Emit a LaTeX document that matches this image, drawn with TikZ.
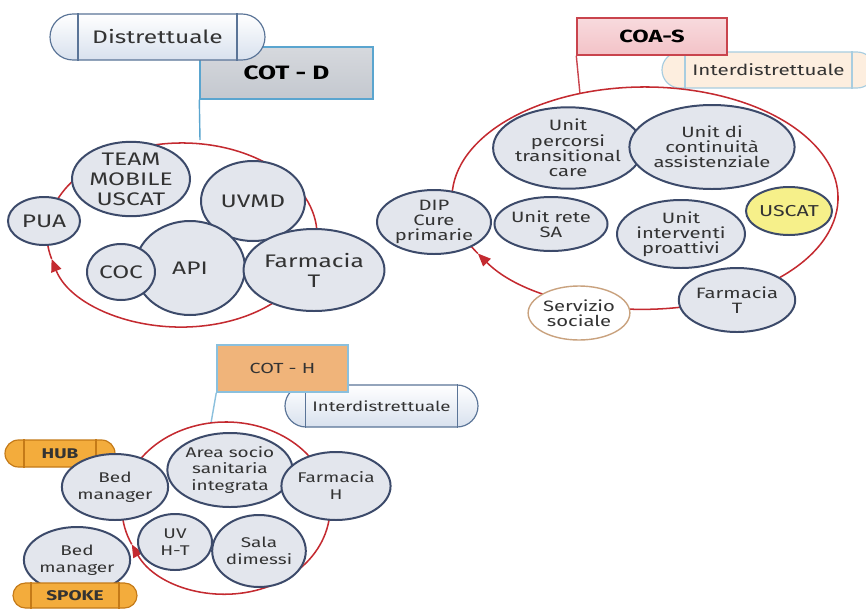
\documentclass[tikz,border=0pt]{standalone}
\usepackage{fontspec}
\setmainfont{Fira Sans}[FakeStretch=1.35]
\usetikzlibrary{shapes.geometric,shapes.misc,arrows.meta}

\definecolor{bubFill}{HTML}{E3E6ED}
\definecolor{bubLine}{HTML}{3C4A6A}
\definecolor{ringRed}{HTML}{C42A30}
\definecolor{txtGray}{HTML}{333333}
\definecolor{cotBlue}{HTML}{5AA5CF}
\definecolor{cotGray}{HTML}{C4C8CF}
\definecolor{pillLine}{HTML}{5A7497}
\definecolor{pillBlue}{HTML}{D8E1EE}
\definecolor{coaRed}{HTML}{C9444D}
\definecolor{coaPink}{HTML}{F3C2C7}
\definecolor{peach}{HTML}{FDEEDF}
\definecolor{peachLine}{HTML}{A8CDE0}
\definecolor{cohOrange}{HTML}{F0B47A}
\definecolor{hubOrange}{HTML}{F3AC3C}
\definecolor{hubLine}{HTML}{C47A18}
\definecolor{uscatYellow}{HTML}{F6F08A}
\definecolor{socialTan}{HTML}{C9A27E}

\begin{document}
\begin{tikzpicture}[x=0.03cm, y=-0.03cm,
	bub/.style 2 args={ellipse, draw=bubLine, fill=bubFill, line width=1.7pt, minimum width=#1*0.06cm, minimum height=#2*0.06cm, inner sep=0pt, align=center, text=txtGray},
	ring/.style={draw=ringRed, line width=1.3pt, -{Triangle[length=11pt,width=9pt]}},
	pill/.style={rounded rectangle, line width=1pt, inner sep=0pt, text=txtGray},
	title/.style={rectangle, line width=1.2pt, inner sep=0pt, text=black},
	bigTxt/.style={font=\fontsize{15.5}{17}\selectfont},
	smallTxt/.style={font=\fontsize{12.8}{13}\selectfont},
	midTxt/.style={font=\fontsize{12}{14.5}\selectfont}]
		\useasboundingbox (0,0) rectangle (866,610);
		\fill[white] (0,0) rectangle (866,610);		% background
		
		% COT - D
		\node[title, draw=cotBlue, top color=cotGray!70!white, bottom color=cotGray, minimum width=5.19cm, minimum height=1.56cm, font=\fontsize{16.5}{18}\selectfont\bfseries] (cotd) at (286.5,73) {COT - D};
		\node[pill, draw=pillLine, top color=white, bottom color=pillBlue, minimum width=6.45cm, minimum height=1.38cm, font=\fontsize{15.5}{17}\selectfont] (dist) at (157.5,37) {Distrettuale};
		\draw[pillLine, line width=1pt] ([xshift=-2.385cm]dist.north) -- ([xshift=-2.385cm]dist.south);
		\draw[pillLine, line width=1pt] ([xshift=2.385cm]dist.north) -- ([xshift=2.385cm]dist.south);
		\coordinate (ringOneTop) at (200,140);
		\draw[cotBlue, line width=1.2pt] (cotd.south west) -- (ringOneTop);
		\draw[ring] (182,235) ++(555:4.05cm and 2.76cm) arc[start angle=555, end angle=195, x radius=4.05cm, y radius=2.76cm];
		
		\node[bub={36}{24}, bigTxt] (pua) at (44,221) {PUA};
		\node[bub={59}{36}, bigTxt] (team) at (131,179) {TEAM\\MOBILE\\USCAT};
		\node[bub={52}{40}, bigTxt] (uvmd) at (253,201) {UVMD};
		\node[bub={55}{47}, bigTxt] (api) at (190,268) {API};
		\node[bub={34}{28}, bigTxt] (coc) at (121,272) {COC};
		\node[bub={59}{41}, bigTxt] (farmt) at (314,270) {Farmacia\\T};
		
		% COA-S
		\node[pill, draw=peachLine, fill=peach, minimum width=6.39cm, minimum height=1.08cm, font=\fontsize{13}{15}\selectfont] (interS) at (768.5,70) {Interdistrettuale};
		\draw[peachLine, line width=1pt] ([xshift=-2.505cm]interS.north) -- ([xshift=-2.505cm]interS.south);
		\draw[peachLine, line width=1pt] ([xshift=2.505cm]interS.north) -- ([xshift=2.505cm]interS.south);
		\node[title, draw=coaRed, top color=coaPink!60!white, bottom color=coaPink, minimum width=4.5cm, minimum height=1.11cm, font=\fontsize{15}{16}\selectfont\bfseries] (coas) at (652,36.5) {COA-S};
		\coordinate (ringTwoTop) at (580,94);
		\draw[coaRed, line width=1.2pt] (coas.south west) -- (ringTwoTop);
		\draw[ring] (645,198) ++(570:5.79cm and 3.33cm) arc[start angle=570, end angle=210, x radius=5.79cm, y radius=3.33cm];
		
		\node[bub={57}{32}, smallTxt] (dip) at (434,222) {DIP\\Cure\\primarie};
		\node[bub={65}{37}, smallTxt] (percorsi) at (568,148) {Unit\\percorsi\\transitional\\care};
		\node[bub={74}{42}, smallTxt] (continuita) at (712,147) {Unit di\\continuità\\assistenziale};
		\node[bub={49}{27}, smallTxt] (rete) at (551,224) {Unit rete\\SA};
		\node[bub={64}{34}, smallTxt] (proattivi) at (681,234) {Unit\\interventi\\proattivi};
		\node[bub={43}{24}, fill=uscatYellow, font=\fontsize{13.5}{14}\selectfont] (uscat) at (789,211) {USCAT};
		\node[bub={57}{32}, smallTxt] (farmtS) at (737,300) {Farmacia\\T};
		\node[bub={46}{27}, smallTxt, fill=white, draw=socialTan, line width=1.2pt] (sociale) at (579,313) {Servizio\\sociale};
		
		% COT - H
		\node[pill, draw=pillLine, top color=white, bottom color=pillBlue, minimum width=5.79cm, minimum height=1.26cm, font=\fontsize{11.8}{14}\selectfont] (interH) at (381.5,406) {Interdistrettuale};
		\draw[pillLine, line width=1pt] ([xshift=-2.28cm]interH.north) -- ([xshift=-2.28cm]interH.south);
		\draw[pillLine, line width=1pt] ([xshift=2.28cm]interH.north) -- ([xshift=2.28cm]interH.south);
		\node[title, draw=cotBlue!70!white, fill=cohOrange, minimum width=3.93cm, minimum height=1.41cm, font=\fontsize{12.5}{14}\selectfont, text=txtGray] (coth) at (282.5,368.5) {COT - H};
		\coordinate (ringThreeTop) at (211,423);
		\draw[cotBlue!70!white, line width=1.2pt] (coth.south west) -- (ringThreeTop);
		\node[pill, draw=hubLine, fill=hubOrange, minimum width=3.3cm, minimum height=0.81cm, font=\fontsize{12}{13}\selectfont\bfseries, text=txtGray] (hub) at (60,453.5) {HUB};
		\draw[hubLine, line width=1pt] ([xshift=-1.08cm]hub.north) -- ([xshift=-1.08cm]hub.south);
		\draw[hubLine, line width=1pt] ([xshift=1.08cm]hub.north) -- ([xshift=1.08cm]hub.south);
		\draw[ring] (226,508) ++(565:3.12cm and 2.58cm) arc[start angle=565, end angle=205, x radius=3.12cm, y radius=2.58cm];
		
		\node[bub={43}{33}, midTxt] (bedhub) at (115,487) {Bed\\manager};
		\node[bub={55}{37}, midTxt] (area) at (230,470) {Area socio\\sanitaria\\integrata};
		\node[bub={46}{34}, midTxt] (farmh) at (336,486) {Farmacia\\H};
		\node[bub={37}{28}, midTxt] (uvht) at (175,542) {UV\\H-T};
		\node[bub={39}{36}, midTxt] (sala) at (259,551) {Sala\\dimessi};
		\node[bub={45}{33}, midTxt] (bedspoke) at (77,560) {Bed\\manager};
		\node[pill, draw=hubLine, fill=hubOrange, minimum width=3.72cm, minimum height=0.75cm, font=\fontsize{12}{13}\selectfont\bfseries, text=txtGray] (spoke) at (75,595.5) {SPOKE};
		\draw[hubLine, line width=1pt] ([xshift=-1.32cm]spoke.north) -- ([xshift=-1.32cm]spoke.south);
		\draw[hubLine, line width=1pt] ([xshift=1.32cm]spoke.north) -- ([xshift=1.32cm]spoke.south);
\end{tikzpicture}
\end{document}
